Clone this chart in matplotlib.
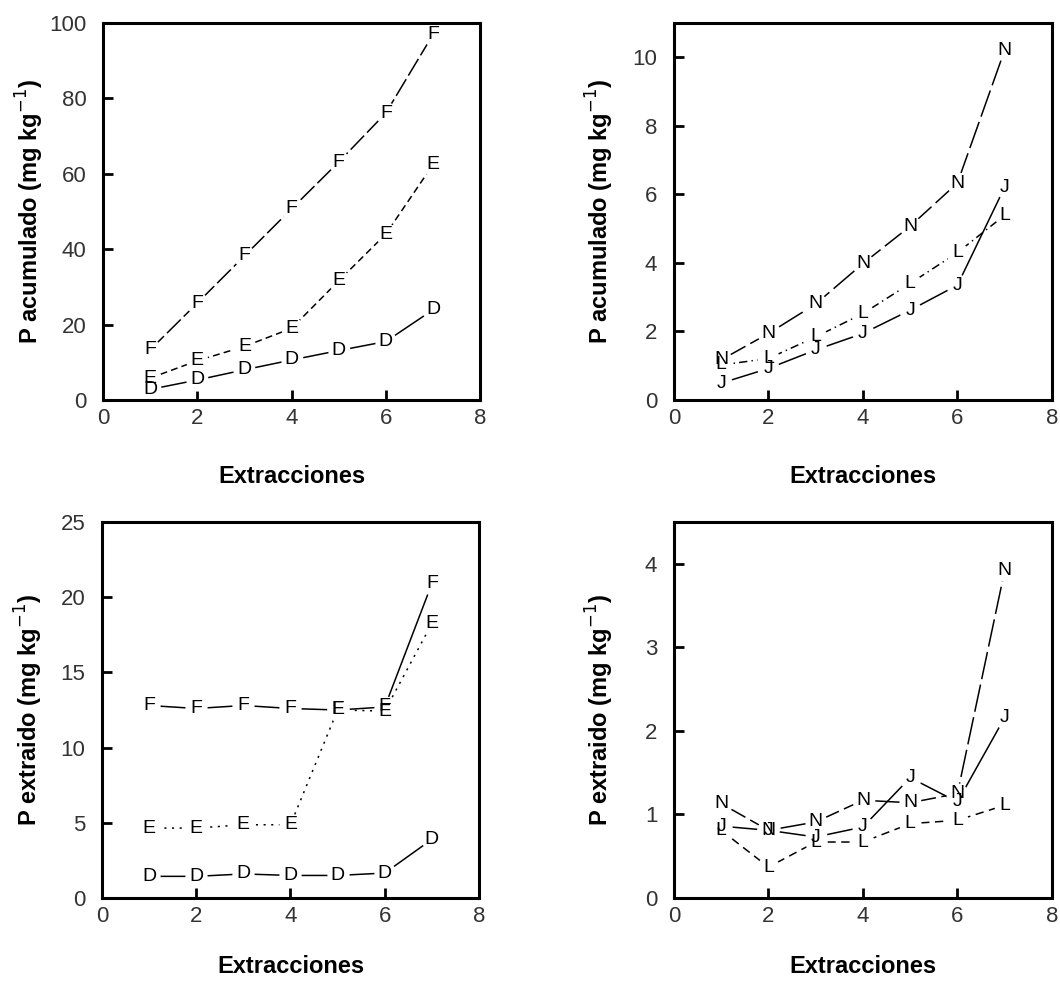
import numpy as np
import matplotlib
matplotlib.use('Agg')
import matplotlib.pyplot as plt

plt.rcParams['font.family'] = ['Liberation Sans', 'DejaVu Sans']
plt.rcParams['lines.scale_dashes'] = False

x = [1, 2, 3, 4, 5, 6, 7]

# P acumulado, suelos D, E, F
acum_F = [13.3, 25.7, 38.2, 50.7, 63.1, 76.1, 96.9]
acum_E = [5.8, 10.4, 14.2, 19.0, 31.6, 44.0, 62.4]
acum_D = [2.8, 5.3, 8.0, 10.6, 13.1, 15.5, 23.9]

# P acumulado, suelos N, L, J
acum_N = [1.17, 1.94, 2.80, 3.98, 5.07, 6.33, 10.21]
acum_L = [1.02, 1.21, 1.84, 2.52, 3.40, 4.30, 5.39]
acum_J = [0.49, 0.92, 1.46, 1.94, 2.62, 3.35, 6.21]

# P extraido, suelos D, E, F
ext_F = [12.8, 12.6, 12.8, 12.6, 12.5, 12.7, 20.9]
ext_E = [4.65, 4.65, 4.87, 4.87, 12.5, 12.43, 18.25]
ext_D = [1.44, 1.44, 1.6, 1.5, 1.5, 1.66, 3.9]

# P extraido, suelos N, L, J
ext_N = [1.13, 0.81, 0.91, 1.17, 1.14, 1.25, 3.92]
ext_J = [0.86, 0.81, 0.73, 0.85, 1.44, 1.15, 2.16]
ext_L = [0.81, 0.37, 0.67, 0.67, 0.89, 0.93, 1.11]

solid = None
long_dash = (20, 4)

fig = plt.figure(figsize=(10.6, 9.81), dpi=100)
ax1 = fig.add_axes([0.0972, 0.5923, 0.3557, 0.3843])
ax2 = fig.add_axes([0.6358, 0.5923, 0.3566, 0.3843])
ax3 = fig.add_axes([0.0962, 0.0846, 0.3557, 0.3833])
ax4 = fig.add_axes([0.6358, 0.0846, 0.3566, 0.3833])


def serie(ax, y, letra, dashes):
    if dashes is None:
        ax.plot(x, y, color='black', lw=1.1, zorder=1)
    else:
        ax.plot(x, y, color='black', lw=1.1, dashes=dashes, zorder=1)
    ax.plot(x, y, 'o', color='white', ms=16, mew=0, zorder=2)
    for xi, yi in zip(x, y):
        ax.text(xi, yi, letra, ha='center', va='center', fontsize=14,
                color='black', zorder=3)


serie(ax1, acum_F, 'F', (14, 3))
serie(ax1, acum_E, 'E', (5, 3))
serie(ax1, acum_D, 'D', solid)

serie(ax2, acum_N, 'N', long_dash)
serie(ax2, acum_L, 'L', (6, 3, 1, 3))
serie(ax2, acum_J, 'J', solid)

serie(ax3, ext_F, 'F', solid)
serie(ax3, ext_E, 'E', (1.5, 4))
serie(ax3, ext_D, 'D', solid)

serie(ax4, ext_N, 'N', long_dash)
serie(ax4, ext_J, 'J', solid)
serie(ax4, ext_L, 'L', (6, 4))

ax1.set_ylim(0, 100)
ax1.set_yticks(np.arange(0, 101, 20))
ax2.set_ylim(0, 11)
ax2.set_yticks(np.arange(0, 11, 2))
ax3.set_ylim(0, 25)
ax3.set_yticks(np.arange(0, 26, 5))
ax4.set_ylim(0, 4.5)
ax4.set_yticks(np.arange(0, 5, 1))

for ax in (ax1, ax2, ax3, ax4):
    ax.set_xlim(0, 8)
    ax.set_xticks(np.arange(0, 9, 2))
    for s in ax.spines.values():
        s.set_linewidth(2.2)
    ax.tick_params(direction='in', length=7, width=2, labelsize=16,
                   labelcolor='#333333')
    ax.tick_params(axis='y', pad=12)
    ax.tick_params(axis='x', pad=6)
    ax.set_xlabel('Extracciones', fontsize=17, fontweight='bold')

for ax in (ax1, ax2):
    ax.set_ylabel('P acumulado (mg kg$^{-1}$)', fontsize=17, fontweight='bold')
    ax.yaxis.set_label_coords(-0.152, 0.5)
    ax.xaxis.set_label_coords(0.5, -0.172)
for ax in (ax3, ax4):
    ax.set_ylabel('P extraido (mg kg$^{-1}$)', fontsize=17, fontweight='bold')
    ax.yaxis.set_label_coords(-0.152, 0.5)
    ax.xaxis.set_label_coords(0.5, -0.152)

fig.savefig('out.png', dpi=100)
